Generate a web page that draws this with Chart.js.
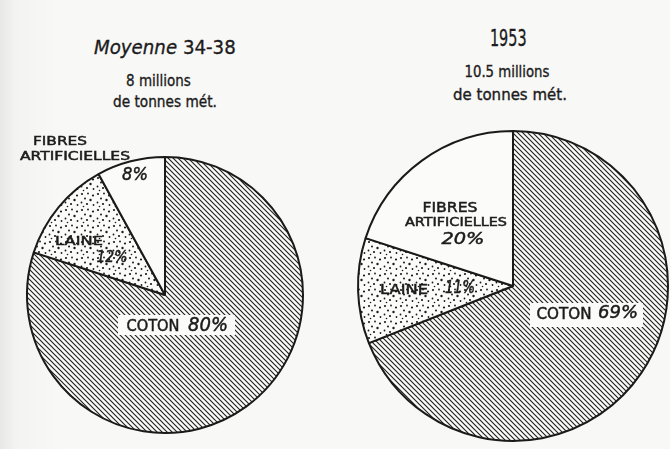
<!DOCTYPE html>
<html>
<head>
<meta charset="utf-8">
<script src="https://cdn.jsdelivr.net/npm/chart.js@4"></script>
<style>
  html, body { margin: 0; padding: 0; }
  body {
    width: 670px; height: 449px; overflow: hidden; position: relative;
    background: linear-gradient(to right, #e8e8e6 0px, #f3f3f1 16px, #f8f8f6 60px);
    font-family: 'DejaVu Sans', sans-serif; color: #1c1c1c;
  }
  .pie { position: absolute; top: 0; height: 449px; }
  .line { position: absolute; width: 300px; text-align: center; white-space: nowrap; -webkit-text-stroke: 0.35px #1c1c1c; }
  .line span { display: inline-block; transform-origin: 50% 50%; }
</style>
</head>
<body>

<div class="line" data-w="142" style="left:15px; top:35px; font-size:20px;"><span><i>Moyenne</i> 34-38</span></div>
<div class="line" data-w="65" style="left:8px; top:71px; font-size:16px;"><span>8 millions</span></div>
<div class="line" data-w="104" style="left:15px; top:93px; font-size:15px;"><span>de tonnes mét.</span></div>

<div class="line" data-w="37" style="left:358px; top:25px; font-size:23px;"><span>1953</span></div>
<div class="line" data-w="85" style="left:357px; top:63px; font-size:15px;"><span>10.5 millions</span></div>
<div class="line" data-w="114" style="left:360px; top:86px; font-size:15px;"><span>de tonnes mét.</span></div>

<div class="pie" style="left:0; width:335px;"><canvas id="pie3438"></canvas></div>
<div class="pie" style="left:335px; width:335px;"><canvas id="pie1953"></canvas></div>

<script>
const categories = ['COTON', 'LAINE', 'FIBRES ARTIFICIELLES'];
const values3438 = [80, 12, 8];   // Moyenne 34-38, %
const values1953 = [69, 11, 20];  // 1953, %

// squeeze the hand-lettered title lines to their width
document.querySelectorAll('.line').forEach(el => {
  const span = el.querySelector('span');
  const k = +el.dataset.w / span.offsetWidth;
  span.style.transform = 'scaleX(' + k + ')';
});

// diagonal hatching for cotton
function hatch() {
  const p = 5;
  const c = document.createElement('canvas');
  c.width = p; c.height = p;
  const g = c.getContext('2d');
  g.fillStyle = '#fbfbfa';
  g.fillRect(0, 0, p, p);
  g.strokeStyle = '#222';
  g.lineWidth = 1.15;
  g.beginPath();
  g.moveTo(-1, -1); g.lineTo(p + 1, p + 1);
  g.moveTo(-1, p - 1); g.lineTo(1, p + 1);
  g.moveTo(p - 1, -1); g.lineTo(p + 1, 1);
  g.stroke();
  return g.createPattern(c, 'repeat');
}

// stipple for wool
function stipple() {
  const s = 16;
  const dots = [
    [2, 2, 1.1], [8, 1.5, 0.9], [13, 3.5, 1.1], [5, 6.5, 1.0], [10.5, 8, 1.2],
    [1.5, 10.5, 0.9], [7, 12, 1.1], [13.5, 13, 0.9], [3.5, 14.5, 0.8]
  ];
  const c = document.createElement('canvas');
  c.width = s; c.height = s;
  const g = c.getContext('2d');
  g.fillStyle = '#fbfbfa';
  g.fillRect(0, 0, s, s);
  g.fillStyle = '#1a1a1a';
  dots.forEach(([x, y, r]) => { g.beginPath(); g.arc(x, y, r, 0, Math.PI * 2); g.fill(); });
  return g.createPattern(c, 'repeat');
}

const fills = [hatch(), stipple(), '#fbfbfa'];

function drawFitted(ctx, text, x, y, w, font) {
  ctx.font = font;
  const m = ctx.measureText(text).width;
  ctx.save();
  ctx.translate(x, y);
  ctx.scale(w / m, 1);
  ctx.fillText(text, 0, 0);
  ctx.strokeText(text, 0, 0);
  ctx.restore();
}

// labels placed around the pie centre; text comes from categories/values
const pieLabels = {
  id: 'pieLabels',
  afterDatasetsDraw(chart, args, opts) {
    const ctx = chart.ctx;
    const arc = chart.getDatasetMeta(0).data[0];
    const vals = chart.data.datasets[0].data;
    ctx.save();
    ctx.textAlign = 'center';
    ctx.textBaseline = 'middle';
    ctx.fillStyle = '#1c1c1c';
    ctx.strokeStyle = '#1c1c1c';
    ctx.lineWidth = 0.5;
    opts.items.forEach(it => {
      if (it.box) {
        ctx.fillStyle = '#fbfbfa';
        ctx.fillRect(arc.x + it.box[0], arc.y + it.box[1], it.box[2], it.box[3]);
        ctx.fillStyle = '#1c1c1c';
        return;
      }
      const text = it.pct ? vals[it.i] + '%' : categories[it.i].split(' ')[it.word || 0];
      const font = (it.pct ? 'italic ' : '') + it.size + 'px "DejaVu Sans"';
      drawFitted(ctx, text, arc.x + it.dx, arc.y + it.dy, it.w, font);
    });
    ctx.restore();
  }
};

function makePie(id, values, radius, padding, items) {
  new Chart(document.getElementById(id), {
    type: 'pie',
    data: {
      labels: categories,
      datasets: [{
        data: values,
        backgroundColor: fills,
        borderColor: '#1a1a1a',
        borderWidth: 2,
        radius: radius
      }]
    },
    options: {
      responsive: true,
      maintainAspectRatio: false,
      animation: false,
      events: [],
      layout: { padding: padding },
      plugins: {
        legend: { display: false },
        tooltip: { enabled: false },
        pieLabels: { items: items }
      }
    },
    plugins: [pieLabels]
  });
}

makePie('pie3438', values3438, 138, { left: 0, right: 5, top: 146, bottom: 5 }, [
  { i: 2, word: 0, dx: -105, dy: -153, w: 54, size: 13 },
  { i: 2, word: 1, dx: -90, dy: -138, w: 110, size: 12 },
  { i: 2, pct: true, dx: -30, dy: -120, w: 26, size: 18 },
  { i: 1, dx: -86, dy: -53, w: 48, size: 13 },
  { i: 1, pct: true, dx: -53, dy: -37, w: 31, size: 16 },
  { box: [-47, 20, 117, 20] },
  { i: 0, dx: -12, dy: 32, w: 53, size: 15 },
  { i: 0, pct: true, dx: 43, dy: 31, w: 40, size: 20 }
]);

makePie('pie1953', values1953, 155, { left: 21, right: 0, top: 125, bottom: 2 }, [
  { i: 2, word: 0, dx: -63, dy: -78, w: 55, size: 14 },
  { i: 2, word: 1, dx: -57, dy: -63, w: 102, size: 12 },
  { i: 2, pct: true, dx: -50, dy: -46, w: 43, size: 16 },
  { i: 1, dx: -109, dy: 4, w: 48, size: 14 },
  { i: 1, pct: true, dx: -53, dy: 3, w: 30, size: 17 },
  { box: [17, 17, 113, 24] },
  { i: 0, dx: 51, dy: 29, w: 55, size: 15 },
  { i: 0, pct: true, dx: 105, dy: 28, w: 40, size: 17 }
]);
</script>
</body>
</html>
